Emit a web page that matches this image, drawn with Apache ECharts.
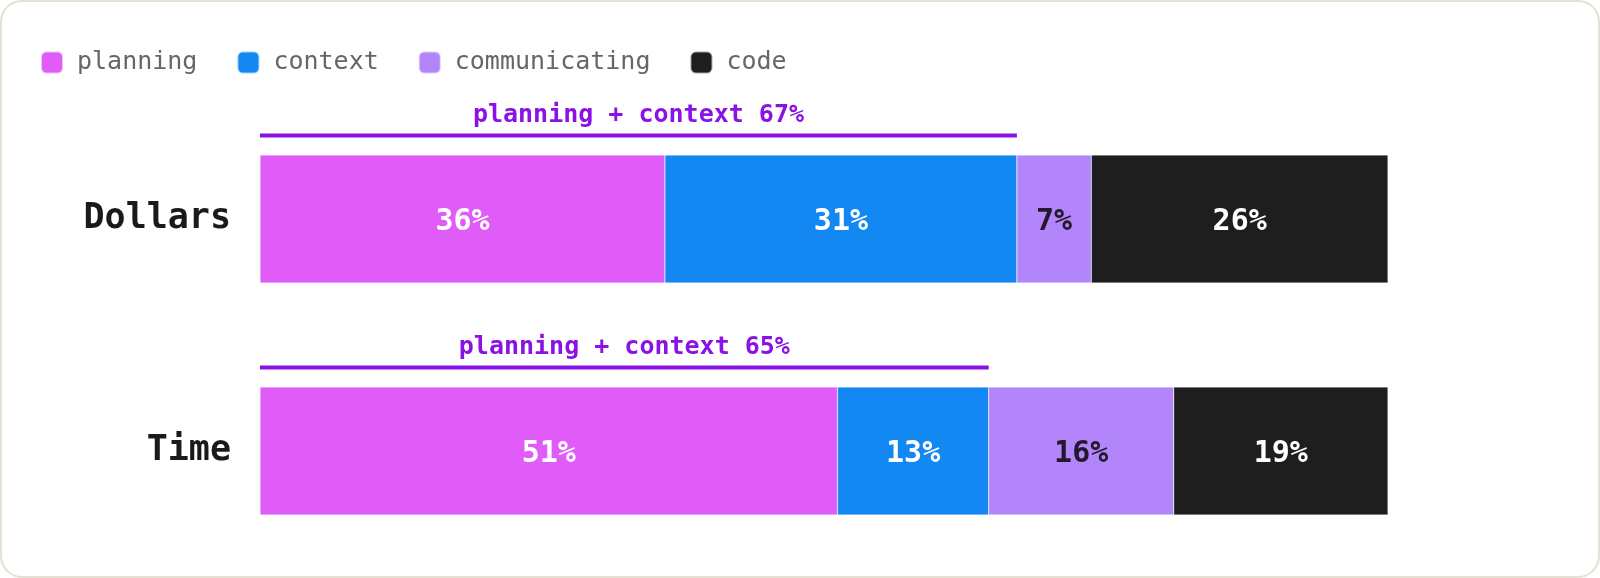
<!DOCTYPE html>
<html>
<head>
<meta charset="utf-8">
<script src="https://cdn.jsdelivr.net/npm/echarts@6/dist/echarts.min.js"></script>
<style>
  html, body { margin: 0; padding: 0; background: #fff; }
  #wrap { position: relative; width: 1600px; height: 578px; }
  #chart { position: absolute; left: 0; top: 0; width: 1600px; height: 578px; }
  #card { position: absolute; left: 0; top: 0; width: 1600px; height: 578px; box-sizing: border-box;
          border: 2px solid #e4e1d4; border-radius: 22px; pointer-events: none; }
</style>
</head>
<body>
<div id="wrap">
  <div id="chart"></div>
  <div id="card"></div>
</div>
<script>
// data
var categories = ['Dollars', 'Time'];
var planning = [35.9, 51.2];
var context = [31.2, 13.4];
var communicating = [6.6, 16.4];
var code = [26.3, 19.0];

var mono = "'DejaVu Sans Mono', monospace";
var accent = '#8a12e4';
var barH = 128;

// planning + context totals for the brackets
var combined = categories.map(function (c, i) {
    return [planning[i] + context[i], i];
});

function barLabel(color) {
    return {
        show: true,
        position: 'inside',
        offset: [0, 3],
        color: color,
        fontFamily: mono,
        fontWeight: 'bold',
        fontSize: 30,
        formatter: function (p) { return Math.round(p.value) + '%'; }
    };
}

function barSeries(name, data, color, labelColor) {
    return {
        name: name,
        type: 'bar',
        stack: 'total',
        barWidth: barH,
        data: data,
        itemStyle: { color: color, borderColor: 'rgba(255,255,255,0.6)', borderWidth: 0.5 },
        label: barLabel(labelColor),
        emphasis: { disabled: true }
    };
}

var chart = echarts.init(document.getElementById('chart'));

var option = {
    animation: false,
    backgroundColor: 'transparent',
    legend: {
        left: 40,
        top: 50,
        padding: 0,
        itemWidth: 22,
        itemHeight: 22,
        itemGap: 39,
        icon: 'roundRect',
        data: ['planning', 'context', 'communicating', 'code'],
        textStyle: {
            fontFamily: mono,
            fontSize: 25,
            color: '#666',
            padding: [0, 0, 0, 9]
        }
    },
    grid: { left: 260, right: 212, top: 103, bottom: 11 },
    xAxis: {
        type: 'value',
        min: 0,
        max: 100,
        show: false
    },
    yAxis: {
        type: 'category',
        inverse: true,
        data: categories,
        axisLine: { show: false },
        axisTick: { show: false },
        axisLabel: {
            margin: 29,
            padding: [10, 0, 0, 0],
            fontFamily: mono,
            fontWeight: 'bold',
            fontSize: 35,
            color: '#1a1a1a'
        }
    },
    series: [
        barSeries('planning', planning, '#e05cf8', '#ffffff'),
        barSeries('context', context, '#1488f2', '#ffffff'),
        barSeries('communicating', communicating, '#b285fa', '#24182c'),
        barSeries('code', code, '#1e1e1e', '#ffffff'),
        {
            type: 'custom',
            name: 'bracket',
            data: combined,
            encode: { x: 0, y: 1 },
            silent: true,
            z: 5,
            renderItem: function (params, api) {
                var total = api.value(0);
                var cat = api.value(1);
                var start = api.coord([0, cat]);
                var end = api.coord([total, cat]);
                var lineY = start[1] - barH / 2 - 19.5;
                return {
                    type: 'group',
                    children: [
                        {
                            type: 'rect',
                            shape: { x: start[0], y: lineY - 2, width: end[0] - start[0], height: 4 },
                            style: { fill: accent }
                        },
                        {
                            type: 'text',
                            x: (start[0] + end[0]) / 2,
                            y: lineY - 20,
                            style: {
                                text: 'planning + context ' + Math.round(total) + '%',
                                fill: accent,
                                font: 'bold 25px ' + mono,
                                align: 'center',
                                verticalAlign: 'middle'
                            }
                        }
                    ]
                };
            }
        }
    ]
};

chart.setOption(option);
</script>
</body>
</html>
